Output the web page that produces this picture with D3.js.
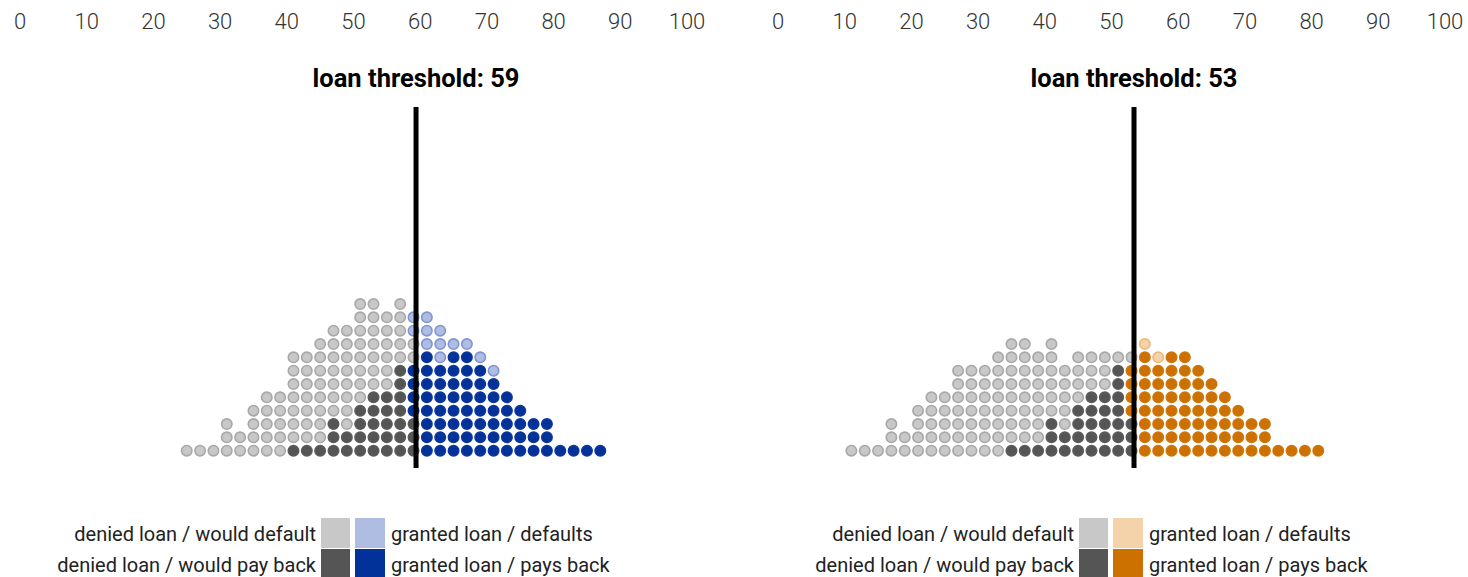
<!DOCTYPE html>
<html>
<head>
<meta charset="utf-8">
<script src="https://cdn.jsdelivr.net/npm/d3@7"></script>
<style>
  html, body { margin: 0; padding: 0; background: #fff; }
  svg { display: block; font-family: Roboto, "Open Sans", sans-serif; }
</style>
</head>
<body>
<svg id="chart" width="1468" height="577"></svg>
<script>
// ---- data ----
const tickLabels = [0, 10, 20, 30, 40, 50, 60, 70, 80, 90, 100];
const binWidth = 2;
// codes per dot, bottom -> top: d = denied / would default, D = denied / would pay back,
// g = granted / defaults, G = granted / pays back
const blueThreshold = 59;
const blueFirstBin = 24;
const blueColumns = [
  "d", "d", "d", "ddd", "dd", "dddd", "ddddd", "ddddd",
  "Dddddddd", "Dddddddd", "Ddddddddd", "DDDddddddd", "DDdddddddd",
  "DDDDdddddddd", "DDDDDddddddd", "DDDDDdddddd", "DDDDDDDddddd",
  "DDDGGGGddgg", "GGGGGGGGggg", "GGGGGGGggg", "GGGGGGGGg", "GGGGGGGGg",
  "GGGGGGGg", "GGGGGGg", "GGGGG", "GGGG", "GGG", "GGG", "G", "G", "G", "G"
];
const orangeThreshold = 53;
const orangeFirstBin = 10;
const orangeColumns = [
  "d", "d", "d", "ddd", "dd", "dddd", "ddddd", "ddddd",
  "ddddddd", "ddddddd", "ddddddd", "dddddddd",
  "Ddddddddd", "Ddddddddd", "Dddddddd", "DDDdddddd", "DDddddd",
  "DDDDdddd", "DDDDDddd", "DDDDDddd", "DDDDDDDd", "DDDGGGGd",
  "GGGGGGGGg", "GGGGGGGg", "GGGGGGGG", "GGGGGGGG", "GGGGGGG", "GGGGGG",
  "GGGGG", "GGGG", "GGG", "GGG", "G", "G", "G", "G"
];
const legendLeftLabels = ["denied loan / would default", "denied loan / would pay back"];
const legendRightLabels = ["granted loan / defaults", "granted loan / pays back"];
const thresholdTitle = "loan threshold: ";

// ---- styles ----
const palettes = {
  blue: {
    d: { fill: "#c8c8c8", stroke: "#a8a8a8" },
    D: { fill: "#555555", stroke: "#5a5a5a" },
    g: { fill: "#b0bde2", stroke: "#7f95d4" },
    G: { fill: "#03319a", stroke: "#0b379c" }
  },
  orange: {
    d: { fill: "#c8c8c8", stroke: "#a8a8a8" },
    D: { fill: "#555555", stroke: "#5a5a5a" },
    g: { fill: "#f4d3ab", stroke: "#ecb977" },
    G: { fill: "#cc7100", stroke: "#cf7508" }
  }
};

const svg = d3.select("#chart");

function drawGroup(offsetX, columns, firstBin, threshold, pal) {
  const g = svg.append("g").attr("transform", `translate(${offsetX},0)`);
  const x = d3.scaleLinear().domain([0, 100]).range([20, 687]);
  const y = d3.scaleLinear().domain([0, 12]).range([450.7, 290.7]);

  // axis labels on top
  g.append("g").selectAll("text").data(tickLabels).join("text")
    .attr("x", d => x(d)).attr("y", 29)
    .attr("text-anchor", "middle")
    .attr("font-size", 22).attr("font-weight", 300)
    .attr("fill", "#333")
    .text(d => d);

  // dots
  const dots = [];
  columns.forEach((col, k) => {
    const bin = firstBin + k * binWidth;
    col.split("").forEach((code, row) => dots.push({ bin, row, code }));
  });
  g.append("g").selectAll("circle").data(dots).join("circle")
    .attr("cx", d => x(d.bin + binWidth / 2))
    .attr("cy", d => y(d.row))
    .attr("r", 5.2)
    .attr("fill", d => pal[d.code].fill)
    .attr("stroke", d => pal[d.code].stroke)
    .attr("stroke-width", 1.6);

  // threshold line
  g.append("rect")
    .attr("x", x(threshold)).attr("y", 107)
    .attr("width", 5).attr("height", 361)
    .attr("fill", "#000");

  g.append("text")
    .attr("x", x(threshold) + 2.5).attr("y", 87)
    .attr("text-anchor", "middle")
    .attr("font-size", 25.5).attr("font-weight", 700)
    .attr("fill", "#000")
    .text(thresholdTitle + threshold);

  // legend
  const lg = g.append("g");
  const rowsY = [518, 549];
  const codesLeft = ["d", "D"], codesRight = ["g", "G"];
  rowsY.forEach((yy, i) => {
    lg.append("rect").attr("x", 321).attr("y", yy).attr("width", 29).attr("height", 30)
      .attr("fill", pal[codesLeft[i]].fill);
    lg.append("rect").attr("x", 355).attr("y", yy).attr("width", 30).attr("height", 30)
      .attr("fill", pal[codesRight[i]].fill);
    lg.append("text").attr("x", 316).attr("y", yy + 23)
      .attr("text-anchor", "end").attr("font-size", 20).attr("fill", "#222")
      .text(legendLeftLabels[i]);
    lg.append("text").attr("x", 391).attr("y", yy + 23)
      .attr("text-anchor", "start").attr("font-size", 20).attr("fill", "#222")
      .text(legendRightLabels[i]);
  });
}

drawGroup(0, blueColumns, blueFirstBin, blueThreshold, palettes.blue);
drawGroup(758, orangeColumns, orangeFirstBin, orangeThreshold, palettes.orange);
</script>
</body>
</html>
